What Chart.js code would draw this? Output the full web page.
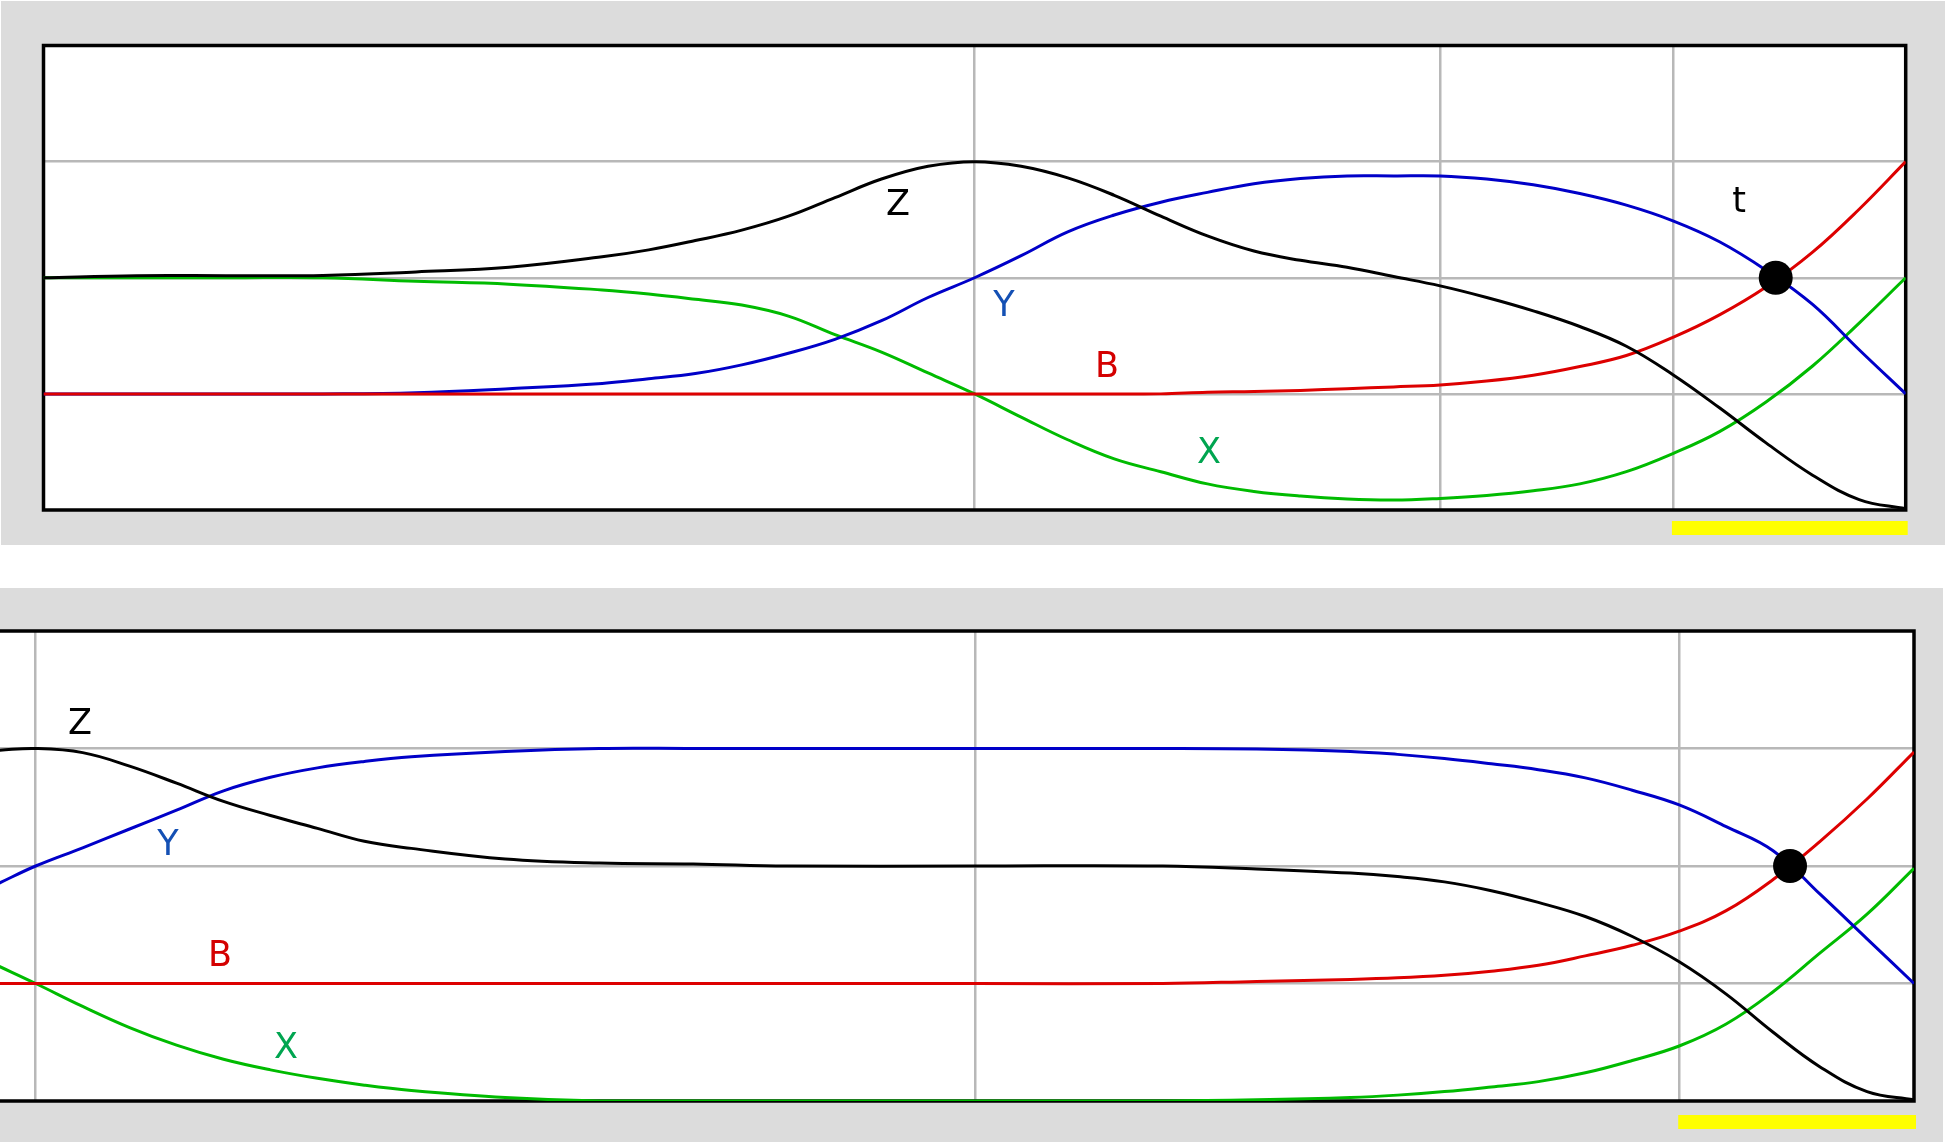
<!DOCTYPE html>
<html>
<head>
<meta charset="utf-8">
<title>Curve panels</title>
<script src="https://cdn.jsdelivr.net/npm/chart.js@4.4.1/dist/chart.umd.min.js"></script>
<style>
  html, body { margin: 0; padding: 0; background: #ffffff; }
  body { width: 1947px; height: 1142px; position: relative; overflow: hidden; }
  .panel { position: absolute; background: #dcdcdc; }
  #topPanel { left: 1px; top: 1px; width: 1944px; height: 544px; }
  #bottomPanel { left: 0px; top: 588px; width: 1943px; height: 554px; }
  canvas { display: block; }
</style>
</head>
<body>
<div class="panel" id="topPanel"><canvas id="topChart"></canvas></div>
<div class="panel" id="bottomPanel"><canvas id="bottomChart"></canvas></div>

<script>
// ---------------------------------------------------------------------------
// DATA
// ---------------------------------------------------------------------------

// top panel: parameter t on the x axis
const topT = [0, 0.05, 0.1, 0.15, 0.2, 0.25, 0.3, 0.325, 0.35, 0.375, 0.4, 0.425, 0.45, 0.475,
  0.5, 0.525, 0.55, 0.575, 0.6, 0.625, 0.65, 0.675, 0.7, 0.725, 0.75, 0.775, 0.8, 0.825,
  0.85, 0.875, 0.9, 0.925, 0.95, 0.975, 1.0];
const topZ = [2.0, 2.018, 2.018, 2.02, 2.05, 2.09, 2.18, 2.24, 2.32, 2.41, 2.53, 2.69, 2.85, 2.96,
  3.0, 2.96, 2.86, 2.71, 2.53, 2.36, 2.23, 2.15, 2.09, 2.01, 1.93, 1.83, 1.715, 1.58,
  1.41, 1.165, 0.88, 0.578, 0.3, 0.09, 0.01];
const topY = [1.0, 1.0, 1.0, 1.0, 1.01, 1.045, 1.09, 1.13, 1.175, 1.25, 1.35, 1.47, 1.63, 1.83,
  2.0, 2.19, 2.395, 2.54, 2.65, 2.735, 2.81, 2.855, 2.877, 2.877, 2.877, 2.85, 2.80, 2.725,
  2.625, 2.49, 2.31, 2.065, 1.77, 1.38, 1.0];
const topX = [2.0, 2.0, 2.0, 2.0, 1.97, 1.945, 1.895, 1.86, 1.815, 1.765, 1.67, 1.51, 1.36, 1.18,
  1.0, 0.80, 0.605, 0.44, 0.33, 0.225, 0.16, 0.12, 0.095, 0.086, 0.10, 0.125, 0.165, 0.225,
  0.33, 0.486, 0.675, 0.93, 1.24, 1.61, 2.0];
const topB = [1.0, 1.0, 1.0, 1.0, 1.0, 1.0, 1.0, 1.0, 1.0, 1.0, 1.0, 1.0, 1.0, 1.0,
  1.0, 1.0, 1.0, 1.0, 1.0, 1.015, 1.02, 1.03, 1.045, 1.06, 1.077, 1.11, 1.16, 1.235,
  1.33, 1.486, 1.68, 1.92, 2.22, 2.59, 3.0];
const topDot = [0.9302, 2.0];
const topGridX = [0.5, 0.75, 0.875];
const topBarRange = [0.875, 1.0];

// bottom panel: its own parameter s on the x axis
const botS = [-0.02, 0, 0.025, 0.05, 0.075, 0.1, 0.125, 0.15, 0.175, 0.2, 0.25, 0.3, 0.35, 0.4,
  0.5, 0.6, 0.65, 0.7, 0.725, 0.75, 0.775, 0.8, 0.825, 0.85, 0.875, 0.9, 0.925, 0.95, 0.975, 1.0];
const botZ = [2.985, 3.0, 2.965, 2.85, 2.705, 2.55, 2.43, 2.32, 2.21, 2.15, 2.06, 2.025, 2.018, 2.0,
  2.0, 2.0, 1.975, 1.94, 1.91, 1.865, 1.79, 1.69, 1.57, 1.40, 1.185, 0.91, 0.585, 0.29, 0.08, 0.01];
const botY = [1.85, 2.0, 2.155, 2.315, 2.475, 2.64, 2.755, 2.835, 2.89, 2.93, 2.975, 3.0, 3.0, 3.0,
  3.0, 3.0, 2.995, 2.975, 2.95, 2.915, 2.87, 2.82, 2.75, 2.645, 2.52, 2.335, 2.13, 1.76, 1.38, 1.0];
const botX = [1.15, 1.0, 0.805, 0.625, 0.475, 0.355, 0.265, 0.193, 0.135, 0.09, 0.03, 0.0, 0.0, 0.0,
  0.0, 0.0, 0.01, 0.03, 0.05, 0.08, 0.12, 0.165, 0.24, 0.345, 0.468, 0.655, 0.93, 1.26, 1.59, 1.98];
const botB = [1.0, 1.0, 1.0, 1.0, 1.0, 1.0, 1.0, 1.0, 1.0, 1.0, 1.0, 1.0, 1.0, 1.0,
  1.0, 1.0, 1.018, 1.035, 1.048, 1.07, 1.105, 1.155, 1.235, 1.325, 1.445, 1.62, 1.885, 2.21, 2.57, 2.97];
const botDot = [0.934, 2.0];
const botGridX = [0, 0.5, 0.875];
const botBarRange = [0.875, 1.0];

const gridY = [1, 2, 3];

// curve name labels: [text, x, y] in data units
const topLabels = [['Z', 0.4588, 2.653], ['Y', 0.5158, 1.783], ['B', 0.5711, 1.258],
  ['X', 0.6259, 0.513], ['t', 0.9105, 2.679]];
const botLabels = [['Z', 0.0236, 3.234], ['Y', 0.0704, 2.207], ['B', 0.0981, 1.26],
  ['X', 0.1333, 0.477]];

// ---------------------------------------------------------------------------
// STYLE
// ---------------------------------------------------------------------------
const COLORS = { Z: '#000000', Y: '#0000c8', X: '#00bb00', B: '#dd0000' };
const LABEL_COLORS = { Z: '#000000', Y: '#1450b4', X: '#00a550', B: '#d40000', t: '#000000' };
const GRID_COLOR = '#b8b8b8';

// white plot area, frame, yellow range bar and curve labels
const panelDecor = {
  id: 'panelDecor',
  beforeDraw(chart) {
    const { ctx, chartArea: a } = chart;
    ctx.save();
    ctx.fillStyle = '#ffffff';
    ctx.fillRect(a.left, a.top, a.right - a.left, a.bottom - a.top);
    ctx.restore();
  },
  beforeDatasetsDraw(chart, args, opts) {
    const { ctx, chartArea: a } = chart;
    ctx.save();
    ctx.strokeStyle = '#000000';
    ctx.lineWidth = 3.5;
    ctx.beginPath();
    ctx.moveTo(a.left, a.top);
    ctx.lineTo(a.right, a.top);
    ctx.lineTo(a.right, a.bottom);
    ctx.lineTo(a.left, a.bottom);
    if (opts.leftEdge) ctx.closePath();
    ctx.stroke();
    ctx.restore();
  },
  afterDatasetsDraw(chart, args, opts) {
    const { ctx, chartArea: a, scales: { x, y } } = chart;
    ctx.save();
    // yellow bar under the last interval
    const x0 = x.getPixelForValue(opts.bar[0]);
    const x1 = x.getPixelForValue(opts.bar[1]);
    ctx.fillStyle = '#ffff00';
    ctx.fillRect(x0 - 1, a.bottom + opts.barGap, x1 - x0 + 3, 14);
    // labels
    ctx.font = '35px "DejaVu Sans", sans-serif';
    ctx.textAlign = 'center';
    ctx.textBaseline = 'alphabetic';
    opts.labels.forEach(([txt, lx, ly]) => {
      ctx.fillStyle = LABEL_COLORS[txt];
      ctx.fillText(txt, x.getPixelForValue(lx), y.getPixelForValue(ly) + 13);
    });
    ctx.restore();
  }
};

function curve(name, xs, ys) {
  return {
    label: name,
    data: xs.map((v, i) => ({ x: v, y: ys[i] })),
    borderColor: COLORS[name],
    borderWidth: 3,
    pointRadius: 0,
    tension: 0.4,
    fill: false
  };
}

function dot(p) {
  return {
    type: 'scatter',
    label: 'dot',
    data: [{ x: p[0], y: p[1] }],
    pointRadius: 17,
    pointBackgroundColor: '#000000',
    pointBorderWidth: 0,
    showLine: false
  };
}

function makeChart(id, cfg) {
  const canvas = document.getElementById(id);
  return new Chart(canvas, {
    type: 'line',
    data: {
      // first dataset is drawn on top
      datasets: [
        dot(cfg.dot),
        curve('Z', cfg.xs, cfg.Z),
        curve('B', cfg.xs, cfg.B),
        curve('Y', cfg.xs, cfg.Y),
        curve('X', cfg.xs, cfg.X)
      ]
    },
    options: {
      responsive: true,
      maintainAspectRatio: false,
      devicePixelRatio: 1,
      animation: false,
      events: [],
      layout: { padding: cfg.padding, autoPadding: false },
      plugins: {
        legend: { display: false },
        tooltip: { enabled: false },
        panelDecor: { leftEdge: cfg.leftEdge, bar: cfg.bar, barGap: cfg.barGap, labels: cfg.labels }
      },
      scales: {
        x: {
          type: 'linear',
          min: cfg.xMin,
          max: 1,
          afterBuildTicks: s => { s.ticks = cfg.gridX.map(v => ({ value: v })); },
          grid: { color: GRID_COLOR, lineWidth: 2.5, drawTicks: false },
          ticks: { display: false },
          border: { display: false }
        },
        y: {
          min: 0,
          max: 4,
          afterBuildTicks: s => { s.ticks = gridY.map(v => ({ value: v })); },
          grid: { color: GRID_COLOR, lineWidth: 2.5, drawTicks: false },
          ticks: { display: false },
          border: { display: false }
        }
      }
    },
    plugins: [panelDecor]
  });
}

makeChart('topChart', {
  xs: topT, Z: topZ, Y: topY, X: topX, B: topB,
  dot: topDot, gridX: topGridX, bar: topBarRange, barGap: 11,
  labels: topLabels, xMin: 0, leftEdge: true,
  padding: { left: 42.5, top: 44.5, right: 39.3, bottom: 35 }
});

makeChart('bottomChart', {
  xs: botS, Z: botZ, Y: botY, X: botX, B: botB,
  dot: botDot, gridX: botGridX, bar: botBarRange, barGap: 14,
  labels: botLabels, xMin: -0.019, leftEdge: false,
  padding: { left: 0, top: 43, right: 29, bottom: 41 }
});
</script>
</body>
</html>
